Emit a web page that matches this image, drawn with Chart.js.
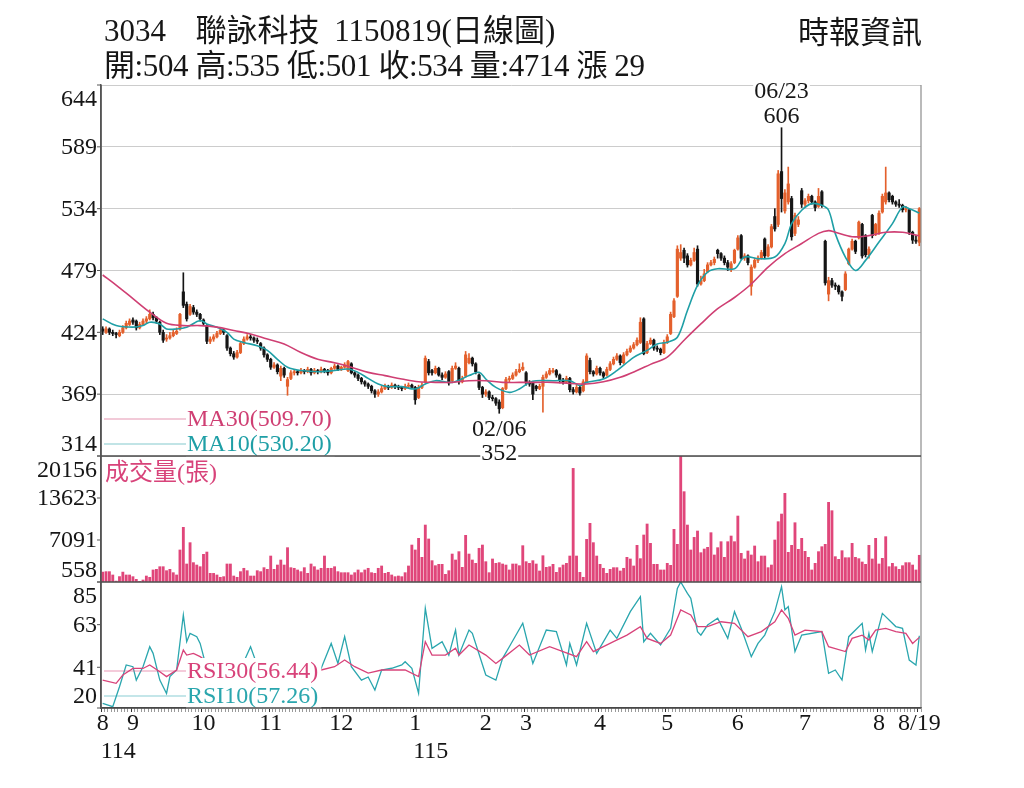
<!DOCTYPE html>
<html><head><meta charset="utf-8">
<script src="https://cdn.jsdelivr.net/npm/chart.js@4.4.1/dist/chart.umd.min.js"></script>
<style>
html,body{margin:0;padding:0;background:#fff;}
#wrap{position:relative;width:1024px;height:788px;overflow:hidden;}
#c{position:absolute;left:0;top:0;}
.t{position:absolute;font-family:"Liberation Serif","Noto Sans CJK TC",serif;color:#161616;white-space:pre;line-height:1;}
</style></head><body>
<div id="wrap">
<canvas id="c" width="1024" height="788"></canvas>
<div class="t" id="title" style="left:104px;top:15px;font-size:31px;word-spacing:7px;"></div>
<div class="t" id="sub" style="left:104px;top:50px;font-size:31px;letter-spacing:-0.4px;"></div>
<div class="t" id="src" style="left:798px;top:17px;font-size:31px;"></div>
</div>
<script>
// ---------- data ----------
const stockTitle = '3034  聯詠科技 1150819(日線圖)';
const sourceText = '時報資訊';
const openP = [427,424,427,424,423,421,424,428,431,435,434,428,431,434,436,440,437,433,424,418,419,421,423,427,460,449,440,446,442,440,435,430,416,418,420,423,426,421,410,405,402,406,414,418,420,419,417,414,410,404,400,393,395,385,392,376,383,388,389,388,390,389,391,388,390,389,391,390,388,392,394,391,393,390,396,388,386,383,380,378,376,372,369,371,374,376,375,377,376,375,374,376,377,375,366,375,380,398,390,388,392,386,384,389,381,392,392,380,385,397,401,396,386,375,369,371,366,365,362,357,374,382,383,386,389,391,388,379,379,376,374,376,384,387,389,390,386,381,380,383,373,371,375,372,380,399,389,387,392,388,386,391,396,400,403,397,404,407,410,413,415,436,406,414,417,410,409,406,415,423,438,456,490,497,492,484,488,498,467,470,478,484,486,497,494,490,486,480,486,498,510,490,492,465,482,488,490,507,492,500,527,520,567,532,540,543,512,520,550,538,541,545,540,536,549,505,458,470,466,465,460,462,485,498,505,508,520,510,493,528,512,512,531,540,548,545,540,538,537,533,533,513,506,504];
const highP = [429,429,428,426,424,426,430,434,436,437,435,433,436,438,444,442,438,434,426,422,424,426,428,441,477,451,449,448,444,441,436,431,420,422,425,428,427,422,411,407,408,416,420,422,422,420,419,415,411,405,401,397,396,394,393,384,390,391,390,392,391,393,392,392,391,393,392,391,393,396,395,394,397,399,397,389,387,384,381,379,377,373,373,376,378,377,379,378,377,376,378,379,378,376,377,379,403,400,391,394,393,388,389,390,394,397,393,385,407,405,402,397,387,376,373,372,368,366,364,375,384,385,388,391,396,397,389,381,380,377,378,386,389,392,392,391,387,383,385,384,375,377,376,382,405,401,390,394,393,389,393,398,402,405,404,406,409,412,415,419,437,437,416,419,418,412,410,417,422,442,454,501,502,499,494,490,499,501,474,480,486,488,491,498,495,492,488,487,498,510,511,494,493,484,490,492,497,508,502,520,534,568,606,551,571,545,530,527,552,543,547,546,541,552,550,506,473,472,468,466,461,478,499,507,506,523,521,511,500,529,521,532,547,571,549,546,541,542,538,536,534,514,510,535];
const lowP = [422,423,422,421,419,420,423,427,430,431,426,427,430,432,435,435,432,422,415,416,418,420,422,426,446,434,439,440,438,434,430,414,414,416,419,422,422,408,403,400,401,405,413,417,417,415,414,408,402,398,391,392,387,381,384,368,382,386,386,387,387,388,386,387,387,388,388,386,387,391,390,390,392,389,387,384,381,378,376,374,370,366,367,370,373,373,374,374,373,372,373,375,374,360,365,374,379,386,386,387,385,382,383,377,380,391,378,379,384,396,394,387,373,366,367,364,363,359,352,356,373,380,382,385,388,390,377,376,364,372,373,353,383,386,388,384,379,378,379,371,369,370,368,371,379,387,385,386,386,383,385,390,395,399,395,396,403,406,409,412,414,404,405,413,408,407,404,405,414,422,437,455,488,486,482,483,487,465,466,469,477,483,484,490,488,484,479,478,485,497,489,488,484,457,481,486,489,490,491,499,514,518,531,530,538,506,510,518,535,536,539,538,532,535,535,466,452,464,462,458,452,461,484,497,494,507,490,491,490,508,510,511,530,538,540,538,536,535,531,531,511,503,503,501];
const closeP = [425,427,424,423,422,424,428,432,434,433,428,431,434,436,440,437,434,424,417,419,421,424,425,440,448,436,447,442,440,436,432,416,418,420,423,426,424,410,405,402,406,414,418,420,419,417,416,410,404,400,393,395,389,392,386,382,388,389,388,390,389,391,388,390,389,391,390,388,392,394,391,393,395,398,388,386,383,380,378,376,372,369,371,374,376,375,377,376,375,374,376,377,375,364,375,377,401,388,388,392,386,384,387,379,392,394,380,383,404,401,396,389,375,369,371,366,365,361,356,374,382,383,386,389,391,393,379,378,369,374,376,384,387,390,390,386,381,380,383,373,371,375,370,380,403,389,387,392,388,385,391,396,400,403,397,404,407,410,413,417,433,405,414,417,410,409,406,415,420,440,452,498,495,490,484,488,495,467,470,476,484,486,489,494,490,486,482,485,497,508,490,492,486,482,488,490,495,492,500,518,516,565,543,548,556,509,528,524,538,541,545,540,535,545,537,468,470,466,465,460,456,476,498,505,496,522,492,493,498,510,520,530,545,548,542,540,538,537,533,534,513,506,505,534];
const volume = [2100,2170,2170,1650,700,1400,2100,1650,1650,1390,970,620,870,1490,1290,2430,2530,2940,2940,2320,2530,2010,1650,5540,9060,3360,6680,3570,3200,2940,4860,5220,1910,1900,1650,1290,1390,3360,3360,1490,1290,2170,2690,2320,1490,1490,2320,2170,2790,2530,4600,2530,3200,3980,3200,5900,2790,2690,2430,2170,2790,1910,3360,2940,2430,2690,4600,2690,2690,2940,2170,2010,2010,2010,1650,2010,2430,2010,2430,2690,2010,1910,2690,3050,1910,2060,1650,1390,1490,1390,2010,3050,6310,5540,7350,4400,9420,7250,3880,3100,3310,3310,1750,2320,4910,3980,5280,2840,7820,4910,3980,3460,5800,6310,3720,2010,4140,3460,3570,3360,3200,2430,3360,3360,3100,6210,3720,3460,3880,3360,2270,4650,2840,2940,3310,2060,2790,3200,3460,4600,18230,4600,2060,1290,7190,9680,6680,4600,3310,2690,1910,2530,2790,2790,2270,2690,4400,4140,3050,6260,4190,7870,9580,6570,3310,3310,2430,2430,3460,3150,8750,6420,20200,14610,9420,5540,7500,8490,5120,5690,5950,8230,4760,5900,6830,4400,6830,7710,6830,10820,5020,4140,5380,4760,6160,3720,4600,4600,2790,3200,7090,9940,11130,14350,5170,6260,9780,5640,7350,5330,4400,2430,3460,5280,6050,6420,12950,11650,4500,4080,5430,4340,4340,6570,4400,4190,3670,3310,6260,4140,7350,3360,4240,7610,2940,3460,2940,2530,3100,3570,3570,3200,2430,4714];
const ma30Days = [0,4,9,14,19,24,29,34,39,44,49,54,59,64,69,74,79,84,89,94,99,104,109,114,119,124,129,134,139,144,149,154,159,163,168,173,178,183,188,193,198,203,208,213,216,218,223,228,233,238,243];
const ma30 = [475,466,454,442,432,430,430,428.6,425.6,422.6,418,413.7,406,400,397,393,388.4,385.5,382.5,380,379.5,379.5,381,381,379.5,379.5,379.5,379.5,378.6,378,380,384,390,395.5,402,417,431.5,445,455,467,482,494,503,512,514.5,513,509,510,513,513,509.7];
const ma10Days = [0,4,9,12,14,17,19,22,25,29,31,34,37,39,42,46,49,52,55,59,64,69,73,76,79,82,85,89,93,96,99,104,109,112,114,117,121,124,127,129,134,139,142,144,149,153,158,162,165,168,171,174,177,180,183,188,191,195,200,203,205,208,211,214,216,218,221,224,227,231,235,238,240,243];
const ma10 = [436,430,428.6,430,433,431.5,427,427,428.6,434.5,431.5,428.6,424,418,415,412,408,400,393,390,389,390,391.4,388.4,383,378,375.7,375.7,373.6,378,381,379.5,385.5,388.5,382.5,375,370.6,373.6,379.5,381,381,381,376.6,379.5,382.5,389.9,401.8,408,413.7,415.2,419.6,443.4,465.7,477.6,480.6,480.6,491,489.5,491,503,520.7,532.6,538.5,537,532.6,511.8,491,479,488,504.3,520.7,535.5,534,530.2];
const rsi30Days = [0,4,6,9,12,14,17,19,22,24,25,27,29,31,34,37,40,44,48,52,55,58,62,65,69,72,75,79,83,86,90,94,96,98,102,105,106,109,114,117,119,124,127,133,137,141,144,146,152,156,160,162,166,169,172,175,177,180,184,188,192,196,200,202,204,206,209,214,216,221,223,226,228,230,233,236,239,241,243];
const rsi30 = [34.4,32.7,37,40.4,40.4,42.2,38.7,36.2,39.6,49.9,47.3,48.2,46.5,44,43,40,38,42,38,35,36,38,39,39.6,41.3,44.8,41.3,38,39.6,39.6,39.6,36.2,54.2,47.3,47.3,50.8,47.3,52.5,47.3,43,45.6,52.5,47.3,51.6,49.1,46.5,54.2,49.1,54.2,57.6,62,55.9,53.3,57.6,70.6,68,62,62,64.5,63.7,56.8,59.4,64.5,70.6,66.3,57.6,60.2,59.4,51.6,49.1,55.9,57.6,55.1,60.2,61.1,59.4,58.5,53.3,56.44];
const rsi10Days = [0,3,5,7,9,10,12,14,15,17,19,20,22,24,25,26,28,29,31,33,35,37,39,41,44,46,48,50,53,55,57,60,62,65,68,70,72,74,77,79,81,83,86,89,90,92,94,96,98,101,103,105,106,109,110,114,117,119,121,125,128,132,135,138,139,141,144,147,151,153,157,160,161,163,166,169,171,172,174,175,177,178,180,183,186,188,190,193,195,197,200,202,203,204,206,208,214,216,218,220,222,226,227,228,229,232,236,238,240,242,243];
const rsi10 = [22.4,20.7,31,42.2,41.3,34.4,41.3,51.6,48.2,34.4,27.5,36.2,39.6,68,54.2,58.5,56.8,53.3,40,36,42,32,26,40,51.6,42,32,26,28,24,38,40,42,40.4,53.3,43,56.8,41.3,34.4,36,29.3,39.6,40.5,42.2,43.9,40.5,27.6,71.4,50.8,54.2,47.3,60.2,47.3,60.2,58.5,37,34.4,45.6,51.6,63.7,43,60.2,59.4,42.2,53.3,42.2,63.7,48.2,60.2,55.9,69.7,77.4,54.2,58.5,52.5,61.1,81.7,85,79.1,76.6,59.4,57.6,62.8,66.3,55.9,69.7,61.1,46.5,53.3,57.6,69.7,82.6,70.6,72.3,49.1,57.6,59.4,37.9,39.6,34.4,56.8,63.7,49.9,58.5,49.1,68.8,62,61.1,44.7,42.2,57.26];
const monthStarts = [0,9,30,50,71,93,114,126,148,168,189,209,231,243];
const monthLabels = ['8','9','10','11','12','1','2','3','4','5','6','7','8','8/19'];
const yearStarts = [0,93];
const yearLabels = ['114','115'];
const priceTicks = [314,369,424,479,534,589,644];
const volTicks = [558,7091,13623,20156];
const rsiTicks = [20,41,63,85];
const peakDate = '06/23';
const troughDate = '02/06';
const volTitle = '成交量(張)';

// ---------- styles ----------
const FONT = '"Liberation Serif", "Noto Sans CJK TC", serif';
const UP = '#e4602c', DOWN = '#151515';
const MA30C = '#cf3f73', MA10C = '#1f9fa6';
const RSI30C = '#d8437a', RSI10C = '#2aa6ae';
const VOLC = '#e0467a';
const TXT = '#161616';

const days = closeP.map((_, i) => i);
const last = closeP.length - 1;
const pts = (d, v) => d.map((x, k) => ({x: x, y: v[k]}));
const candleColor = c => closeP[c.dataIndex] >= openP[c.dataIndex] ? UP : DOWN;

document.getElementById('title').textContent = stockTitle;
document.getElementById('src').textContent = sourceText;
document.getElementById('sub').textContent =
  `開:${openP[last]} 高:${highP[last]} 低:${lowP[last]} 收:${closeP[last]} 量:${volume[last]} 漲 ${closeP[last]-closeP[last-1]}`;

const overlay = {
  id: 'overlay',
  afterDatasetsDraw(chart) {
    const {ctx, chartArea: a, scales} = chart;
    const xs = scales.x, yP = scales.yP, yV = scales.yV, yR = scales.yR;
    const seg = (x1, y1, x2, y2) => { ctx.beginPath(); ctx.moveTo(x1, y1); ctx.lineTo(x2, y2); ctx.stroke(); };
    ctx.save();

    // legends (white boxes behind text)
    const legend = (text, tc, lc, yc) => {
      ctx.font = `24px ${FONT}`;
      const w = ctx.measureText(text).width;
      const tx = a.left + 86;
      ctx.fillStyle = '#fff';
      ctx.fillRect(tx - 1, yc - 13, w + 4, 26);
      ctx.strokeStyle = lc; ctx.lineWidth = 1;
      seg(a.left + 3, yc, tx - 1, yc);
      ctx.fillStyle = tc; ctx.textAlign = 'left'; ctx.textBaseline = 'middle';
      ctx.fillText(text, tx, yc + 1);
    };
    legend(`MA30(${ma30[ma30.length-1].toFixed(2)})`, MA30C, 'rgba(207,63,115,0.55)', yP.bottom - 37);
    legend(`MA10(${ma10[ma10.length-1].toFixed(2)})`, MA10C, 'rgba(31,159,166,0.55)', yP.bottom - 12);
    legend(`RSI30(${rsi30[rsi30.length-1].toFixed(2)})`, RSI30C, 'rgba(216,67,122,0.55)', yR.bottom - 37);
    legend(`RSI10(${rsi10[rsi10.length-1].toFixed(2)})`, RSI10C, 'rgba(42,166,174,0.55)', yR.bottom - 12);

    // frame
    ctx.strokeStyle = '#8c8c8c'; ctx.lineWidth = 1.2;
    seg(a.right, a.top, a.right, a.bottom);
    ctx.strokeStyle = '#4a4a4a'; ctx.lineWidth = 1.3;
    seg(a.left, yV.top, a.right, yV.top);
    seg(a.left, yR.top, a.right, yR.top);
    seg(a.left, a.bottom, a.right, a.bottom);
    ctx.strokeStyle = '#555'; ctx.lineWidth = 1.5;
    seg(a.left, a.top, a.left, a.bottom);

    // y labels
    ctx.font = `24px ${FONT}`;
    ctx.fillStyle = TXT; ctx.textAlign = 'right'; ctx.textBaseline = 'middle';
    const yl = (s, ticks) => ticks.forEach(v => {
      const py = s.getPixelForValue(v);
      const ty = Math.min(Math.max(py, s.top + 14), s.bottom - 12);
      ctx.fillText(String(v), a.left - 4, ty + 1);
      ctx.strokeStyle = '#555'; ctx.lineWidth = 1;
      seg(a.left - 4, py, a.left, py);
    });
    yl(yP, priceTicks); yl(yV, volTicks); yl(yR, rsiTicks);

    // volume title
    ctx.font = `24px ${FONT}`;
    ctx.fillStyle = '#d8437a'; ctx.textAlign = 'left'; ctx.textBaseline = 'middle';
    ctx.fillText(volTitle, a.left + 4, yV.top + 18);

    // peak / trough annotations
    const boxText = (t, x, y) => {
      ctx.font = `24px ${FONT}`;
      const w = ctx.measureText(t).width;
      ctx.fillStyle = '#fff';
      ctx.fillRect(x - w / 2 - 1, y - 10, w + 2, 20);
      ctx.fillStyle = TXT; ctx.textAlign = 'center'; ctx.textBaseline = 'middle';
      ctx.fillText(t, x, y + 1);
    };
    const hi = Math.max(...highP), lo = Math.min(...lowP);
    const iHi = highP.indexOf(hi), iLo = lowP.indexOf(lo);
    const phx = xs.getPixelForValue(iHi), phy = yP.getPixelForValue(hi);
    boxText(peakDate, phx, phy - 37);
    boxText(String(hi), phx, phy - 12);
    const plx = xs.getPixelForValue(iLo), ply = yP.getPixelForValue(lo);
    boxText(troughDate, plx, ply + 15);
    boxText(String(lo), plx, ply + 39);

    // year labels
    ctx.font = `24px ${FONT}`;
    ctx.fillStyle = TXT; ctx.textAlign = 'left'; ctx.textBaseline = 'middle';
    yearStarts.forEach((d, k) => ctx.fillText(yearLabels[k], xs.getPixelForValue(d) - 2, a.bottom + 44));
    ctx.restore();
  }
};

Chart.defaults.font.family = FONT;
new Chart(document.getElementById('c'), {
  type: 'bar',
  data: {
    labels: days,
    datasets: [
      {type: 'line', data: pts(ma30Days, ma30), yAxisID: 'yP', borderColor: MA30C, borderWidth: 1.6, pointRadius: 0, tension: 0.35, order: 1},
      {type: 'line', data: pts(ma10Days, ma10), yAxisID: 'yP', borderColor: MA10C, borderWidth: 1.6, pointRadius: 0, tension: 0.35, order: 1},
      {data: days.map(i => [lowP[i], highP[i]]), yAxisID: 'yP', backgroundColor: candleColor, barThickness: 1, grouped: false, order: 3},
      {data: days.map(i => [openP[i], closeP[i]]), yAxisID: 'yP', backgroundColor: candleColor, barThickness: 2.5, grouped: false, order: 2},
      {data: volume, yAxisID: 'yV', base: volTicks[0], backgroundColor: VOLC, barThickness: 2.2, grouped: false, order: 2},
      {type: 'line', data: pts(rsi30Days, rsi30), yAxisID: 'yR', borderColor: RSI30C, borderWidth: 1.3, pointRadius: 0, tension: 0, order: 1},
      {type: 'line', data: pts(rsi10Days, rsi10), yAxisID: 'yR', borderColor: RSI10C, borderWidth: 1.3, pointRadius: 0, tension: 0, order: 1}
    ]
  },
  options: {
    responsive: false,
    animation: false,
    events: [],
    layout: {padding: {left: 101, top: 85, right: 103, bottom: 0}},
    plugins: {legend: {display: false}, tooltip: {enabled: false}},
    scales: {
      x: {
        type: 'category', offset: true,
        grid: {drawOnChartArea: false, drawTicks: true, tickLength: 4, offset: true,
               tickColor: c => monthStarts.includes(c.index) ? '#333' : '#9a9a9a'},
        border: {display: true, color: '#444', width: 1.3},
        ticks: {autoSkip: false, maxRotation: 0, padding: 0, color: TXT, font: {size: 24, lineHeight: 1},
                callback: (v, i) => { const k = monthStarts.indexOf(i); return k < 0 ? '' : monthLabels[k]; }},
        afterFit: s => { s.height = 80; }
      },
      yP: {
        type: 'linear', position: 'left', stack: 'panels', stackWeight: 371, weight: 3,
        min: priceTicks[0], max: priceTicks[priceTicks.length - 1], beginAtZero: false,
        afterBuildTicks: s => { s.ticks = priceTicks.map(v => ({value: v})); },
        ticks: {display: false}, grid: {color: '#cccccc', lineWidth: 1, drawTicks: false},
        border: {display: true, color: '#555', width: 1.5},
        afterFit: s => { s.width = 0; }
      },
      yV: {
        type: 'linear', position: 'left', stack: 'panels', stackWeight: 126, weight: 2,
        min: volTicks[0], max: volTicks[volTicks.length - 1], beginAtZero: false,
        afterBuildTicks: s => { s.ticks = volTicks.map(v => ({value: v})); },
        ticks: {display: false}, grid: {drawOnChartArea: false, drawTicks: false},
        border: {display: true, color: '#555', width: 1.5},
        afterFit: s => { s.width = 0; }
      },
      yR: {
        type: 'linear', position: 'left', stack: 'panels', stackWeight: 126, weight: 1,
        min: rsiTicks[0], max: rsiTicks[rsiTicks.length - 1], beginAtZero: false,
        afterBuildTicks: s => { s.ticks = rsiTicks.map(v => ({value: v})); },
        ticks: {display: false}, grid: {drawOnChartArea: false, drawTicks: false},
        border: {display: true, color: '#555', width: 1.5},
        afterFit: s => { s.width = 0; }
      }
    }
  },
  plugins: [overlay]
});
</script>
</body></html>
